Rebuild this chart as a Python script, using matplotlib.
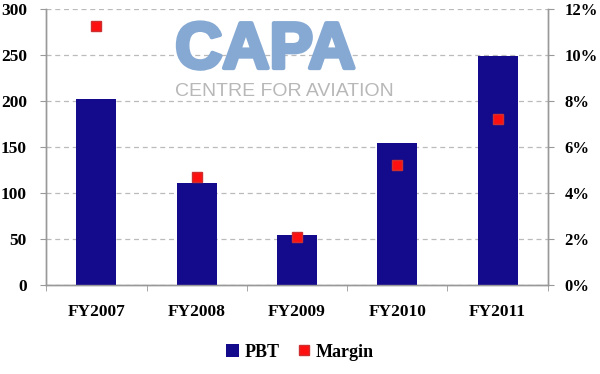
import matplotlib.pyplot as plt
import matplotlib.patheffects as pe
import numpy as np
from matplotlib.ticker import FuncFormatter

# data
years = ["FY2007", "FY2008", "FY2009", "FY2010", "FY2011"]
pbt = [202, 111, 54, 154, 249]
margin = [11.25, 4.7, 2.1, 5.2, 7.2]

plt.rcParams['font.family'] = ['Liberation Serif', 'DejaVu Serif']

fig = plt.figure(figsize=(6, 3.74), dpi=100)
ax = fig.add_axes([0.077, 0.238, 0.836, 0.738])
x = np.arange(len(years))

ax.bar(x, pbt, width=0.4, color='#140a8c', zorder=3, label='PBT')
ax.set_ylim(0, 300)
ax.set_yticks(range(0, 301, 50))
ax.set_xlim(-0.5, len(years) - 0.5)
ax.set_xticks(x)
ax.set_xticklabels(years)
ax.set_xticks(np.arange(-0.5, len(years)), minor=True)
ax.tick_params(axis='x', which='major', length=0, pad=14)
ax.tick_params(axis='x', which='minor', length=4, color='#999999')
ax.tick_params(axis='y', length=4, color='#999999', pad=10)
ax.grid(axis='y', linestyle=(0, (4, 3)), color='#bbbbbb', linewidth=0.9, zorder=0)

ax2 = ax.twinx()
ax2.plot(x, margin, 's', color='#ff1010', markeredgecolor='#cc3030',
         markersize=7, zorder=4, label='Margin')
ax2.set_ylim(0, 12)
ax2.set_yticks(range(0, 13, 2))
ax2.yaxis.set_major_formatter(FuncFormatter(lambda v, p: "%d%%" % v))
ax2.tick_params(axis='y', length=4, color='#999999', pad=8)

for a in (ax, ax2):
    a.spines['top'].set_visible(False)
    for s in ('left', 'right', 'bottom'):
        a.spines[s].set_color('#999999')
        a.spines[s].set_linewidth(1.0)
    for lab in a.get_xticklabels() + a.get_yticklabels():
        lab.set_fontweight('bold')
        lab.set_fontsize(12.5)
for lab in ax2.get_yticklabels():
    lab.set_fontsize(12)

# watermark
fig.text(0.292, 0.818, "CAPA", fontsize=47, fontweight='bold', color='#86a9d3',
         family='Liberation Sans', zorder=5,
         path_effects=[pe.withStroke(linewidth=3, foreground='#86a9d3')])
fig.text(0.292, 0.742, "CENTRE FOR AVIATION", fontsize=14, color='#b8b8b8',
         family='Liberation Sans', zorder=5)

h1, l1 = ax.get_legend_handles_labels()
h2, l2 = ax2.get_legend_handles_labels()
leg = fig.legend(h1 + h2, l1 + l2, loc='center', bbox_to_anchor=(0.5, 0.058),
                 ncol=2, frameon=False, handlelength=0.7, handleheight=0.7,
                 handletextpad=0.3, columnspacing=1.0,
                 prop={'weight': 'bold', 'size': 13})

fig.savefig("out.png", dpi=100)
